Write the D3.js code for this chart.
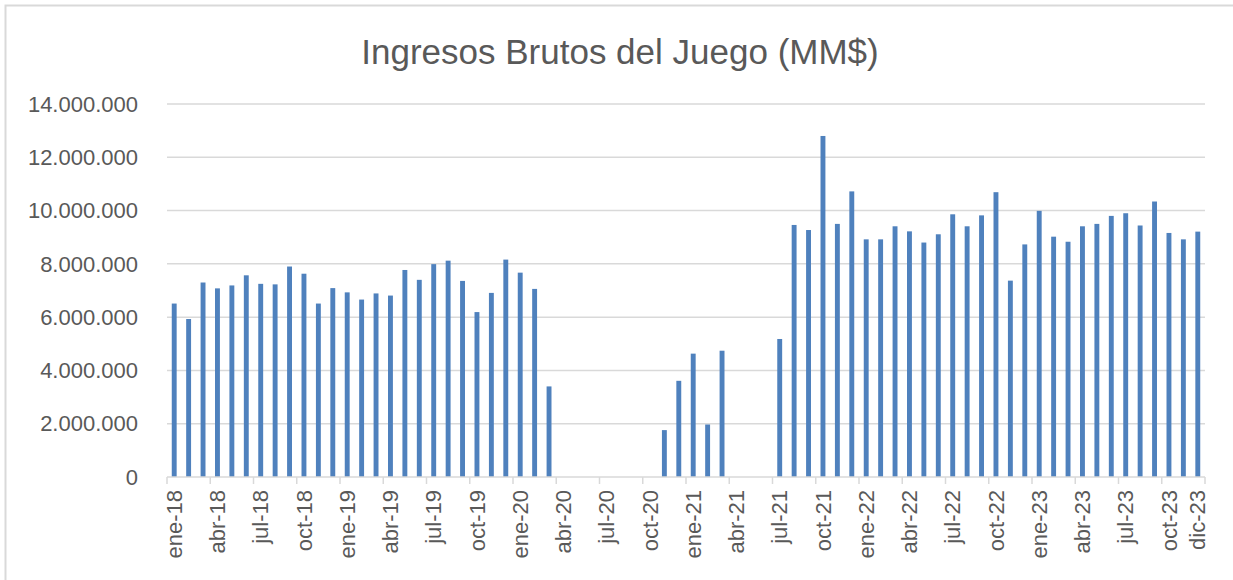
<!DOCTYPE html>
<html>
<head>
<meta charset="utf-8">
<script src="https://cdn.jsdelivr.net/npm/d3@7"></script>
<style>
  body { margin: 0; background: #fff; }
  text { font-family: "Liberation Sans", Arial, sans-serif; fill: #595959; }
</style>
</head>
<body>
<div id="chart-area"></div>
<script>
// month names / years used for the category axis
var monthNames = ["ene","feb","mar","abr","may","jun","jul","ago","sep","oct","nov","dic"];
var years = ["18","19","20","21","22","23"];

// gross gaming revenue per month (null = no data)
var ingresos2018 = [6510000, 5930000, 7300000, 7080000, 7190000, 7570000, 7250000, 7230000, 7900000, 7630000, 6510000, 7090000];
var ingresos2019 = [6930000, 6660000, 6890000, 6810000, 7770000, 7400000, 7990000, 8120000, 7360000, 6190000, 6910000, 8160000];
var ingresos2020 = [7670000, 7060000, 3400000, null, null, null, null, null, null, null, 1760000, 3610000];
var ingresos2021 = [4630000, 1970000, 4740000, null, null, null, 5180000, 9460000, 9270000, 12800000, 9500000, 10720000];
var ingresos2022 = [8920000, 8920000, 9410000, 9220000, 8800000, 9110000, 9860000, 9410000, 9820000, 10690000, 7370000, 8730000];
var ingresos2023 = [9990000, 9020000, 8830000, 9410000, 9500000, 9800000, 9900000, 9440000, 10340000, 9160000, 8920000, 9210000];

var yTicks = [0, 2000000, 4000000, 6000000, 8000000, 10000000, 12000000, 14000000];

var months = [];
years.forEach(function(y){
	monthNames.forEach(function(m){ months.push(m + "-" + y); });
});
var values = [].concat(ingresos2018, ingresos2019, ingresos2020, ingresos2021, ingresos2022, ingresos2023);
var data = months.map(function(m, i){ return {month: m, value: values[i]}; });

var W = 1233, H = 580;
var margin = {left:167, right:28, top:104, bottom:103};

var svg = d3.select("#chart-area")
	.append("svg")
		.attr("width", W)
		.attr("height", H);

// chart border
svg.append("rect")
	.attr("x", 5.5).attr("y", 5.5)
	.attr("width", W).attr("height", H)
	.attr("fill", "none")
	.attr("stroke", "#d9d9d9")
	.attr("stroke-width", 2);

//scales
var x = d3.scaleBand()
	.domain(months)
	.range([margin.left, W - margin.right])
	.paddingInner(0.66)
	.paddingOuter(0.33);

var y = d3.scaleLinear()
	.domain([0, 14000000])
	.range([H - margin.bottom, margin.top]);

var fmt = d3.formatLocale({decimal: ",", thousands: ".", grouping: [3], currency: ["$", ""]}).format(",.0f");

//title
svg.append("text")
	.attr("x", 620)
	.attr("y", 64)
	.attr("text-anchor", "middle")
	.attr("font-size", "35px")
	.text("Ingresos Brutos del Juego (MM$)");

//gridlines
svg.append("g")
	.selectAll("line")
	.data(yTicks.slice(1))
	.enter().append("line")
		.attr("x1", margin.left)
		.attr("x2", W - margin.right)
		.attr("y1", function(d){ return y(d); })
		.attr("y2", function(d){ return y(d); })
		.attr("stroke", "#d9d9d9")
		.attr("stroke-width", 1.5);

//y axis labels
svg.append("g")
	.selectAll("text")
	.data(yTicks)
	.enter().append("text")
		.attr("x", 138)
		.attr("y", function(d){ return y(d); })
		.attr("dy", "0.35em")
		.attr("text-anchor", "end")
		.attr("font-size", "22px")
		.text(function(d){ return fmt(d); });

//bars
svg.append("g")
	.selectAll("rect")
	.data(data.filter(function(d){ return d.value != null; }))
	.enter().append("rect")
		.attr("x", function(d){ return x(d.month); })
		.attr("y", function(d){ return y(d.value); })
		.attr("width", x.bandwidth())
		.attr("height", function(d){ return y(0) - y(d.value); })
		.attr("fill", "#4f81bd");

//x axis
var step = x.step();
var x0 = margin.left;
var tickPos = months.filter(function(m, i){ return i % 3 == 0; })
	.map(function(m){ return x0 + months.indexOf(m) * step; });
tickPos.push(W - margin.right);

var xAxis = svg.append("g");
xAxis.append("line")
	.attr("x1", margin.left)
	.attr("x2", W - margin.right)
	.attr("y1", y(0)).attr("y2", y(0))
	.attr("stroke", "#d9d9d9")
	.attr("stroke-width", 1.5);

xAxis.selectAll(".tick")
	.data(tickPos)
	.enter().append("line")
		.attr("x1", function(d){ return d; })
		.attr("x2", function(d){ return d; })
		.attr("y1", y(0))
		.attr("y2", y(0) + 7)
		.attr("stroke", "#d9d9d9")
		.attr("stroke-width", 1.5);

var labelMonths = months.filter(function(m, i){ return i % 3 == 0 || i == months.length - 1; });

xAxis.selectAll("text")
	.data(labelMonths)
	.enter().append("text")
		.attr("transform", function(d){
			return "translate(" + (x(d) + x.bandwidth() / 2) + "," + (y(0) + 13) + ") rotate(-90)";
		})
		.attr("dy", "0.35em")
		.attr("text-anchor", "end")
		.attr("font-size", "22px")
		.text(function(d){ return d; });
</script>
</body>
</html>
